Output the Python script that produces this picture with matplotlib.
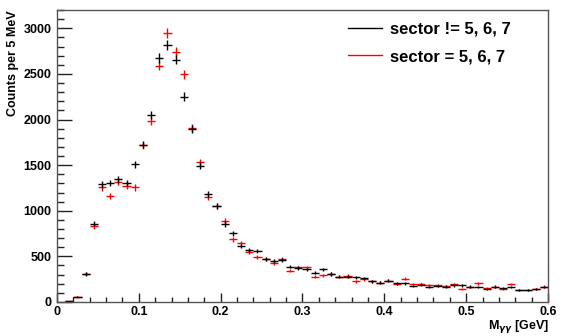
import numpy as np
import matplotlib
matplotlib.use("Agg")
import matplotlib.pyplot as plt
from matplotlib.lines import Line2D

plt.rcParams['font.family'] = ['Liberation Sans', 'DejaVu Sans']
plt.rcParams['font.weight'] = 'bold'

# invariant mass bins, 10 MeV wide, centres from 0.015 to 0.595 GeV
bin_lo = 0.01
bin_w = 0.01
n_bins = 59
centres = bin_lo + bin_w * (np.arange(n_bins) + 0.5)

counts_other = [10, 58, 307, 857, 1289, 1306, 1343, 1306, 1511, 1726,
                2047, 2675, 2814, 2657, 2252, 1894, 1492, 1186, 1051, 854,
                752, 613, 573, 562, 474, 445, 460, 387, 372, 358,
                321, 358, 307, 277, 277, 270, 263, 226, 212, 233,
                204, 204, 175, 190, 161, 175, 168, 182, 182, 168,
                161, 146, 168, 153, 161, 131, 131, 139, 161]

counts_sector = [10, 55, 310, 832, 1256, 1160, 1314, 1270, 1256, 1716,
                 1985, 2591, 2953, 2737, 2496, 1905, 1533, 1153, 1051, 890,
                 686, 642, 549, 489, 470, 423, 474, 343, 380, 380,
                 277, 292, 307, 277, 285, 226, 248, 226, 212, 233,
                 197, 255, 197, 197, 182, 182, 175, 197, 146, 161,
                 204, 153, 161, 139, 197, 131, 131, 139, 168]

fig = plt.figure(figsize=(5.67, 3.36), dpi=100)
ax = fig.add_axes([0.1005, 0.1012, 0.866, 0.869])

for vals, col in [(counts_sector, 'red'), (counts_other, 'black')]:
    vals = np.array(vals, dtype=float)
    ax.errorbar(centres, vals, xerr=bin_w / 2, yerr=np.sqrt(vals),
                fmt='none', ecolor=col, elinewidth=1.0, capsize=0)

ax.set_xlim(0, 0.6)
ax.set_ylim(0, 3200)
ax.set_xticks(np.arange(0, 0.61, 0.1))
ax.set_xticklabels(['0', '0.1', '0.2', '0.3', '0.4', '0.5', '0.6'])
ax.set_xticks(np.arange(0, 0.601, 0.02), minor=True)
ax.set_yticks(np.arange(0, 3001, 500))
ax.set_yticks(np.arange(0, 3201, 100), minor=True)

ax.tick_params(axis='both', which='both', direction='in', colors='#222222',
               labelcolor='black', labelsize=9, width=1)
ax.tick_params(axis='y', which='major', length=10.5, pad=4)
ax.tick_params(axis='y', which='minor', length=5)
ax.tick_params(axis='x', which='major', length=6.5, pad=3)
ax.tick_params(axis='x', which='minor', length=3.5)
for lab in ax.get_xticklabels() + ax.get_yticklabels():
    lab.set_fontweight('bold')
for sp in ax.spines.values():
    sp.set_color('#555555')
    sp.set_linewidth(1)

fig.text(0.012, 0.97, 'Counts per 5 MeV', rotation=90, ha='left', va='top',
         fontsize=9, fontweight='bold')
fig.text(0.969, 0.004, r'M$_{\gamma\gamma}$ [GeV]', ha='right', va='bottom',
         fontsize=9, fontweight='bold')

handles = [Line2D([], [], color='black', lw=1),
           Line2D([], [], color='red', lw=1)]
ax.legend(handles, ['sector != 5, 6, 7', 'sector = 5, 6, 7'],
          loc='upper right', bbox_to_anchor=(0.955, 1.012), frameon=False,
          prop={'size': 12, 'weight': 'bold'}, handlelength=2.05,
          handletextpad=0.5, labelspacing=0.75)

fig.savefig('out.png', dpi=100)
